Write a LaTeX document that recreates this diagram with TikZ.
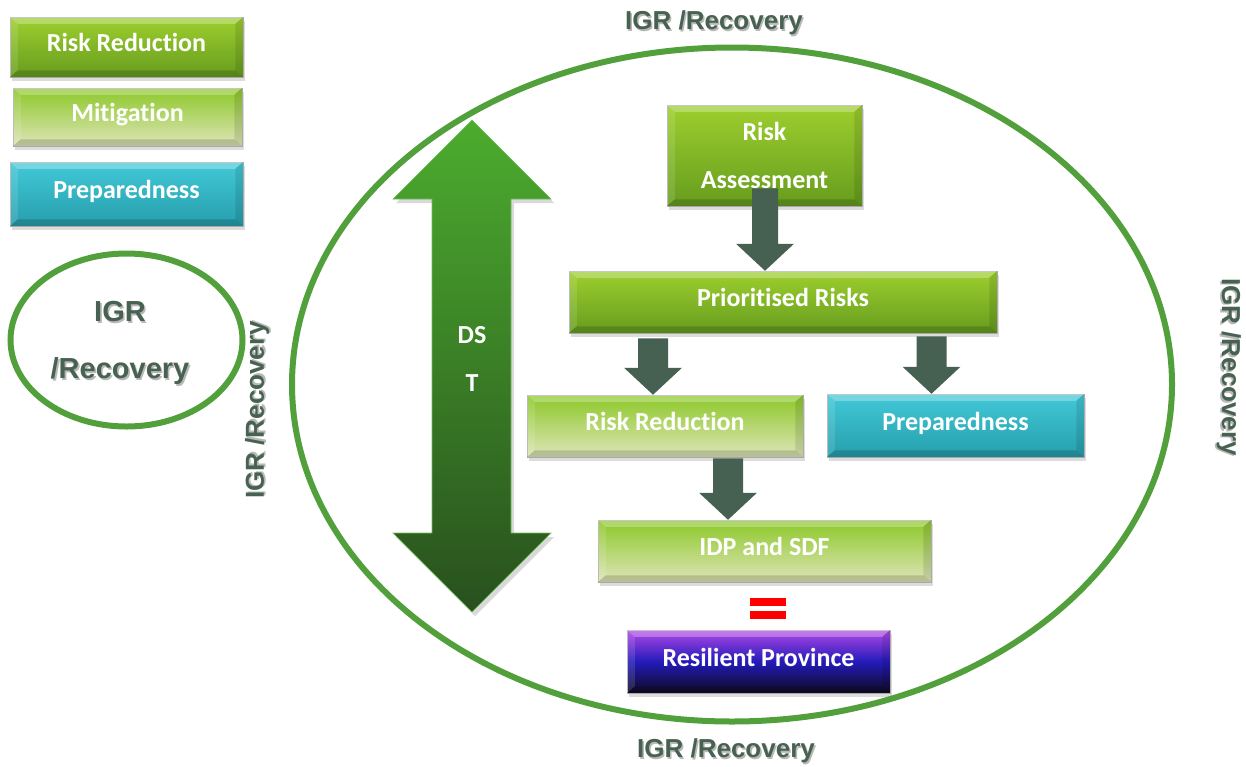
\documentclass[tikz,border=0pt]{standalone}
\usepackage{fontspec}
\setmainfont{Carlito}[Ligatures=NoCommon]
\newfontfamily\labelfont{Liberation Sans}
\usetikzlibrary{shapes.geometric,shadows,calc}

\definecolor{greenTop}{RGB}{158,207,46}
\definecolor{greenBot}{RGB}{102,156,30}
\definecolor{paleTop}{RGB}{140,200,40}
\definecolor{paleBot}{RGB}{222,229,184}
\definecolor{cyanTop}{RGB}{66,201,216}
\definecolor{cyanBot}{RGB}{38,158,172}
\definecolor{resTop}{RGB}{178,72,232}
\definecolor{resMid}{RGB}{36,26,186}
\definecolor{resBot}{RGB}{14,10,34}
\definecolor{flowGrey}{RGB}{70,96,82}
\definecolor{ringGreen}{RGB}{82,160,60}
\definecolor{labelInk}{RGB}{72,98,82}
\definecolor{dstTop}{RGB}{76,172,46}
\definecolor{dstBot}{RGB}{40,80,30}

% text with a soft offset shadow
\newcommand\shtext[1]{\leavevmode\rlap{\hspace{1.6pt}\raisebox{-1.6pt}{\textcolor{black!28}{#1}}}#1}

% bevelled edges of a rectangular box node
\newcommand\bevel[1]{%
  \fill[white,opacity=.28] (#1.north west) -- (#1.north east) -- ($(#1.north east)+(-8,7)$) -- ($(#1.north west)+(8,7)$) -- cycle;
  \fill[white,opacity=.12] (#1.north west) -- ($(#1.north west)+(8,7)$) -- ($(#1.south west)+(8,-7)$) -- (#1.south west) -- cycle;
  \fill[black,opacity=.10] (#1.north east) -- ($(#1.north east)+(-8,7)$) -- ($(#1.south east)+(-8,-7)$) -- (#1.south east) -- cycle;
  \fill[black,opacity=.16] (#1.south west) -- (#1.south east) -- ($(#1.south east)+(-8,-7)$) -- ($(#1.south west)+(8,-7)$) -- cycle;}

% downward block arrow: #1 top of shaft, #2 tip, #3 half shaft width
\newcommand\blockdown[3]{%
  \fill[flowGrey] let \p1=#1, \p2=#2 in
    (\x1-#3pt,\y1) -- (\x1+#3pt,\y1) -- (\x1+#3pt,\y2+27pt) -- (\x1+29pt,\y2+27pt)
    -- (\x2,\y2) -- (\x1-29pt,\y2+27pt) -- (\x1-#3pt,\y2+27pt) -- cycle;}

\tikzset{
  box/.style={rectangle, inner sep=0pt, text=white,
    font=\fontsize{26}{30}\selectfont\bfseries, draw=black!30, line width=.5pt,
    text height=17pt, text depth=8pt,
    drop shadow={shadow xshift=1.5pt, shadow yshift=-3.5pt, opacity=.28}},
  greenbox/.style={box, top color=greenTop, bottom color=greenBot},
  palebox/.style={box, top color=paleTop, bottom color=paleBot},
  cyanbox/.style={box, top color=cyanTop, bottom color=cyanBot},
  resbox/.style={box, top color=resTop, bottom color=resBot, middle color=resMid},
  ring/.style={draw=ringGreen, line width=6pt},
  igr/.style={text=labelInk, font=\labelfont\fontsize{26}{30}\selectfont\bfseries, inner sep=0pt},
}

\begin{document}
\begin{tikzpicture}[x=1pt, y=-1pt]
\useasboundingbox (0,0) rectangle (1246,766);

% ---- legend ----
\node[greenbox, minimum width=233pt, minimum height=60pt] (legRR) at (126.5,47) {Risk Reduction};
\node[palebox, minimum width=229pt, minimum height=58pt] (legMit) at (127.5,117) {Mitigation};
\node[cyanbox, minimum width=233pt, minimum height=64pt] (legPrep) at (126.5,194) {Preparedness};
\bevel{legRR}\bevel{legMit}\bevel{legPrep}

\node[ellipse, ring, minimum width=232pt, minimum height=173pt] (legRing) at (126.5,340) {};
\node[igr, font=\labelfont\fontsize{29}{57}\selectfont\bfseries, align=center] (legTxt) at (120,344) {\shtext{IGR}\\\shtext{/Recovery}};

% ---- outer ring and its labels ----
\node[ellipse, ring, minimum width=880pt, minimum height=674pt] (bigRing) at (732,384.5) {};
\node[igr] (lblTop) at (714,24) {\shtext{IGR /Recovery}};
\node[igr] (lblBot) at (726,752) {\shtext{IGR /Recovery}};
\node[igr, rotate=90] (lblLeft) at (258,410) {\shtext{IGR /Recovery}};
\node[igr, rotate=-90] (lblRight) at (1228,367) {\shtext{IGR /Recovery}};

% ---- DST double arrow ----
\fill[black,opacity=.15] (475,124) -- (554,203) -- (514,203) -- (514,537) -- (554,537) -- (475,616)
  -- (396,537) -- (435,537) -- (435,203) -- (396,203) -- cycle;
\shade[top color=dstTop, bottom color=dstBot, draw=dstTop!80!white, line width=.6pt]
  (472,120) -- (551,199) -- (511,199) -- (511,533) -- (551,533) -- (472,612)
  -- (393,533) -- (432,533) -- (432,199) -- (393,199) -- cycle;
\node[text=white, font=\fontsize{26}{48}\selectfont\bfseries, align=center] (dst) at (472,359) {DS\\T};

% ---- flow boxes ----
\node[greenbox, minimum width=195pt, minimum height=101pt, align=center,
      text height=, text depth=, font=\fontsize{26}{48}\selectfont\bfseries] (ra) at (764.5,155.5) {Risk\\Assessment};
\node[greenbox, minimum width=428pt, minimum height=62pt] (pr) at (783,302) {Prioritised Risks};
\node[palebox, minimum width=276pt, minimum height=62pt] (rr) at (665,426) {Risk Reduction};
\node[cyanbox, minimum width=257pt, minimum height=63pt] (prep) at (955.5,425.5) {Preparedness};
\node[palebox, minimum width=333pt, minimum height=62pt] (idp) at (764.5,551) {IDP and SDF};
\node[resbox, minimum width=263pt, minimum height=63pt] (res) at (758.5,661.5) {Resilient Province};
\bevel{ra}\bevel{pr}\bevel{rr}\bevel{prep}\bevel{idp}\bevel{res}

% ---- connectors ----
\coordinate (colA) at (765,0);
\coordinate (colB) at (653,0);
\coordinate (colC) at (931.5,0);
\coordinate (colD) at (728,0);
\blockdown{($(colA |- ra.south)+(0,-18)$)}{(colA |- pr.north)}{13}
\blockdown{($(colB |- pr.south)+(0,5)$)}{(colB |- rr.north)}{15}
\blockdown{($(colC |- pr.south)+(0,3)$)}{(colC |- prep.north)}{15}
\blockdown{($(colD |- rr.south)+(0,1)$)}{(colD |- idp.north)}{15}

% ---- equals sign ----
\fill[red] (750,598) rectangle (786,606);
\fill[red] (750,611) rectangle (786,619);
\end{tikzpicture}
\end{document}
